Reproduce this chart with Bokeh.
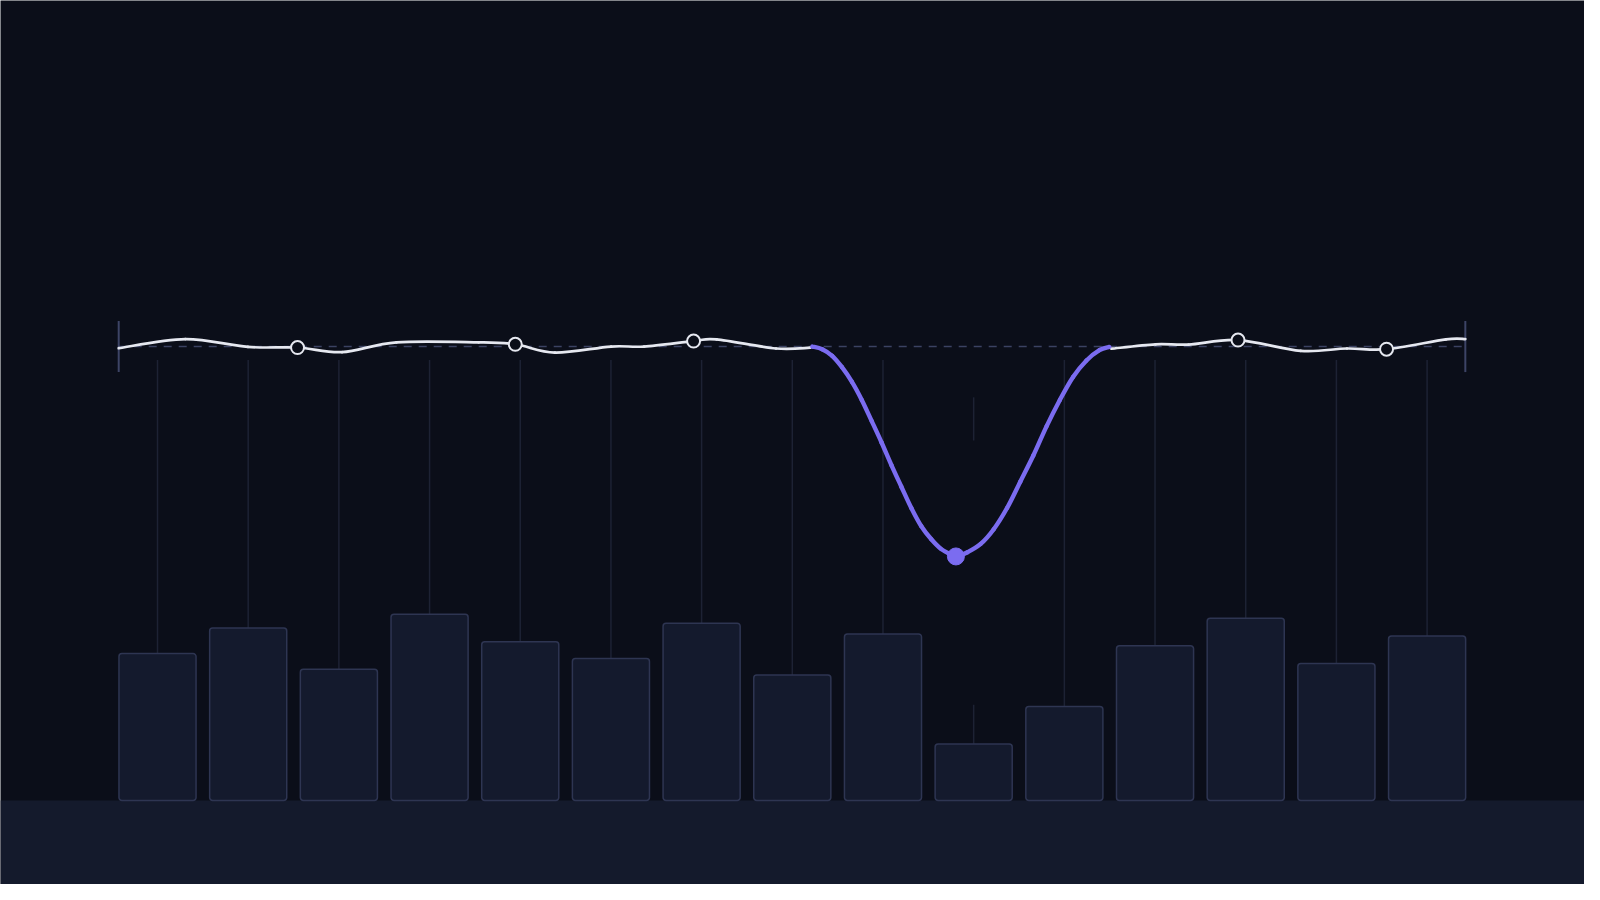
from bokeh.plotting import figure
from bokeh.models import Range1d, BoxAnnotation
from bokeh.embed import file_html
from bokeh.resources import INLINE

# ---------------- data ----------------
bar_index = list(range(15))
bar_values = [74.8, 87.8, 66.8, 94.8, 80.8, 72.3, 90.3, 63.9, 84.8, 28.8, 47.8, 78.8, 92.8, 69.8, 83.8]
stem_top = 224.25
# bar 9 stem is interrupted around the dip: (upper start, upper end, lower start)
gap_bar = 9
gap_upper = (205.25, 183.25)
gap_lower_start = 48.75

line_a_t = [0.0, 4.95, 9.60, 13.28, 16.59, 20.63, 26.73, 29.45, 32.39, 36.56, 39.01,
            42.69, 44.40, 48.81, 51.36]
line_a_v = [-0.85, 3.8, -0.2, -0.5, -2.85, 2.15, 2.15, 1.15, -3.1, 0.0, 0.0,
            2.8, 3.65, -1.0, -0.6]

dip_t = [51.51, 52.24, 52.98, 53.71, 54.45, 55.18, 55.92, 56.65, 57.39, 58.12, 58.86, 59.59,
         60.33, 61.06, 61.80, 62.17, 63.03, 64.01, 64.98, 65.97, 66.95, 67.92, 68.91, 69.89,
         70.87, 71.85, 72.83, 73.56]
dip_v = [0.0, -1.35, -4.7, -10.5, -18.0, -27.2, -38.0, -48.85, -60.5, -71.35, -82.2, -91.35,
         -98.0, -103.0, -105.85, -106.85, -104.7, -100.5, -93.0, -82.2, -68.85, -55.5, -40.5, -27.2,
         -15.5, -7.2, -1.85, -0.2]

line_b_t = [73.71, 77.00, 79.44, 83.12, 87.77, 91.21, 94.15, 98.56, 100.0]
line_b_v = [-1.1, 1.15, 1.0, 3.3, -2.2, -1.0, -1.35, 3.65, 3.8]

marker_t = [13.28, 29.45, 42.69, 83.12, 94.15]
marker_v = [-0.5, 1.15, 2.8, 3.3, -1.35]

dip_point_t = [62.17]
dip_point_v = [-106.85]

baseline_t = [0.0, 100.0]
baseline_v = 0.0
end_tick_half = 13.0

# ---------------- colours ----------------
BG = "#0b0e19"
BAND = "#141a2c"
BAR_FILL = "#141a2d"
BAR_LINE = "#2e3552"
STEM = "#1d2234"
WHITE = "#e6e8f0"
PURPLE = "#7b6cf0"
DASH = "#3b4262"
TICK = "#3d4466"


def smooth_segments(xs, ys):
    """Catmull-Rom style cubic Bezier control points through the given points."""
    n = len(xs)
    px = [xs[0]] + list(xs) + [xs[-1]]
    py = [ys[0]] + list(ys) + [ys[-1]]
    out = {k: [] for k in ("x0", "y0", "x1", "y1", "cx0", "cy0", "cx1", "cy1")}
    for i in range(1, n):
        out["x0"].append(px[i]); out["y0"].append(py[i])
        out["x1"].append(px[i + 1]); out["y1"].append(py[i + 1])
        out["cx0"].append(px[i] + (px[i + 1] - px[i - 1]) / 6.0)
        out["cy0"].append(py[i] + (py[i + 1] - py[i - 1]) / 6.0)
        out["cx1"].append(px[i + 1] - (px[i + 2] - px[i]) / 6.0)
        out["cy1"].append(py[i + 1] - (py[i + 2] - py[i]) / 6.0)
    return out


p = figure(width=1584, height=884, output_backend="svg", toolbar_location=None,
           x_range=Range1d(-1.7314, 15.7358), y_range=Range1d(-42.75, 407.25),
           x_axis_type=None, y_axis_type=None, min_border=0,
           min_border_left=0, min_border_right=0, min_border_top=0, min_border_bottom=0,
           background_fill_color=BG, border_fill_color=BG, outline_line_color=None)
p.grid.visible = False
p.extra_x_ranges = {"t": Range1d(-8.778, 108.85)}
p.extra_y_ranges = {"v": Range1d(-273.85, 176.15)}

# bottom band
p.add_layout(BoxAnnotation(top=0, fill_color=BAND, fill_alpha=1.0, line_alpha=0, level="underlay"))

# stems
x0s, y0s, x1s, y1s = [], [], [], []
for i, v in zip(bar_index, bar_values):
    if i == gap_bar:
        x0s += [i, i]
        y0s += [gap_upper[0], gap_lower_start]
        x1s += [i, i]
        y1s += [gap_upper[1], v]
    else:
        x0s.append(i); y0s.append(stem_top); x1s.append(i); y1s.append(v)
p.segment(x0s, y0s, x1s, y1s, line_color=STEM, line_width=1.5)

# bars
p.vbar(x=bar_index, top=bar_values, bottom=0, width=0.85, fill_color=BAR_FILL,
       line_color=BAR_LINE, line_width=1.5, border_radius=3)

# baseline and end ticks
p.line(baseline_t, [baseline_v, baseline_v], x_range_name="t", y_range_name="v",
       line_color=DASH, line_width=1.5, line_dash="8 7")
p.segment([baseline_t[0], baseline_t[1]], [-end_tick_half, -end_tick_half],
          [baseline_t[0], baseline_t[1]], [end_tick_half, end_tick_half],
          x_range_name="t", y_range_name="v", line_color=TICK, line_width=2)

# line (smooth curves through the read points)
for xs, ys, col, w in ((line_a_t, line_a_v, WHITE, 2.7), (line_b_t, line_b_v, WHITE, 2.7),
                       (dip_t, dip_v, PURPLE, 4.4)):
    s = smooth_segments(xs, ys)
    p.bezier(x0=s["x0"], y0=s["y0"], x1=s["x1"], y1=s["y1"], cx0=s["cx0"], cy0=s["cy0"],
             cx1=s["cx1"], cy1=s["cy1"], x_range_name="t", y_range_name="v",
             line_color=col, line_width=w, line_cap="round")

p.scatter(marker_t, marker_v, x_range_name="t", y_range_name="v", size=13,
          fill_color=BG, line_color=WHITE, line_width=2)
p.scatter(dip_point_t, dip_point_v, x_range_name="t", y_range_name="v", size=17,
          fill_color=PURPLE, line_color=PURPLE, line_width=1)

html = file_html(p, INLINE)
html = html.replace("<body>", '<body style="background:%s;">' % BG, 1)
open("out.html", "w").write(html)
